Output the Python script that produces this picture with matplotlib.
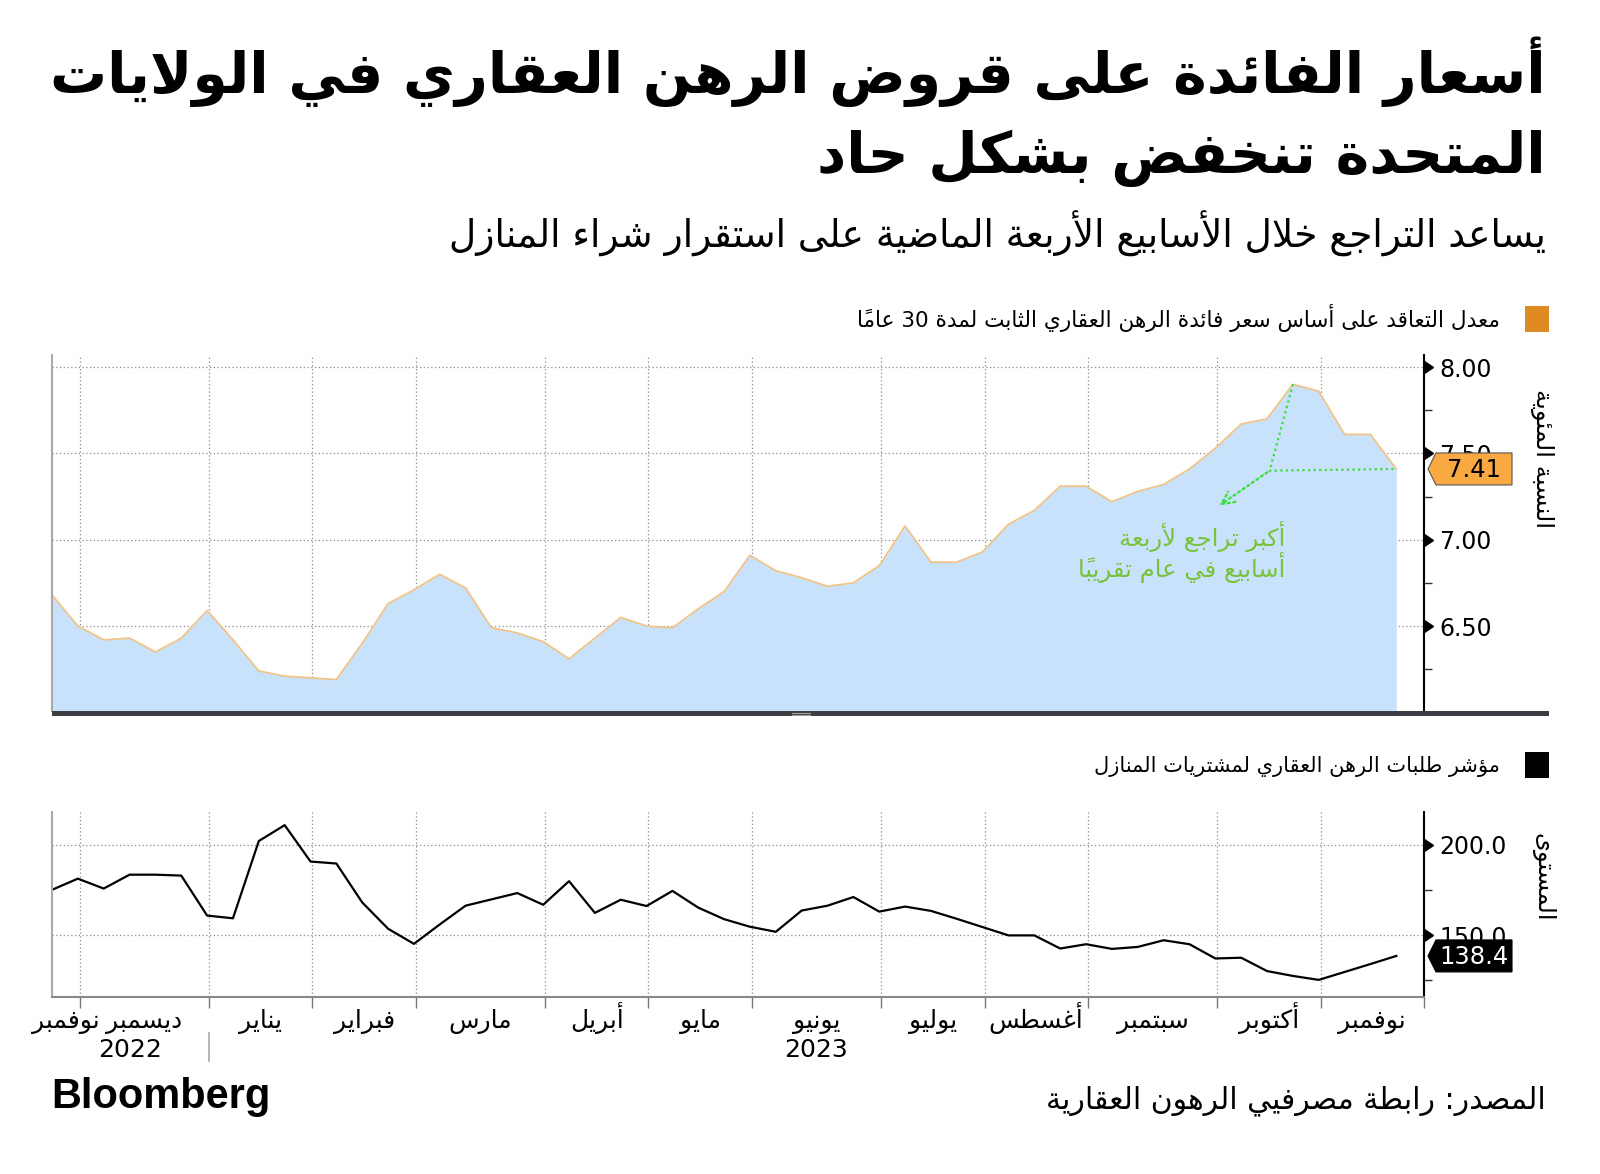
import matplotlib
matplotlib.use('Agg')
import matplotlib.pyplot as plt
import matplotlib.dates as mdates
import matplotlib.transforms as mtransforms
from matplotlib.patches import Rectangle, Polygon
from matplotlib.lines import Line2D
import numpy as np
import pandas as pd

# ---- data ----
dates = pd.date_range('2022-11-18', periods=53, freq='7D')
rate_30y = [6.68, 6.50, 6.42, 6.43, 6.35, 6.43, 6.59, 6.42, 6.24, 6.21,
            6.20, 6.19, 6.40, 6.63, 6.71, 6.80, 6.72, 6.49, 6.46, 6.41,
            6.31, 6.43, 6.55, 6.50, 6.49, 6.60, 6.70, 6.91, 6.82, 6.78,
            6.73, 6.75, 6.85, 7.08, 6.87, 6.87, 6.93, 7.09, 7.17, 7.31,
            7.31, 7.22, 7.28, 7.32, 7.41, 7.53, 7.67, 7.70, 7.90, 7.86,
            7.61, 7.61, 7.41]
purchase_idx = [175.1, 181.3, 175.8, 183.5, 183.5, 183.0, 160.8, 159.3, 202.2, 211.0,
                190.8, 189.7, 168.1, 153.5, 145.1, 155.9, 166.3, 169.8, 173.3, 166.8,
                179.9, 162.3, 169.6, 166.1, 174.5, 165.2, 158.8, 154.6, 151.8, 163.6,
                166.3, 171.1, 163.0, 165.8, 163.4, 159.0, 154.4, 149.8, 149.8, 142.5,
                144.9, 142.3, 143.4, 147.1, 144.9, 137.0, 137.4, 130.0, 127.3, 125.1,
                129.5, 133.9, 138.4]
month_names = ['نوفمبر', 'ديسمبر', 'يناير', 'فبراير', 'مارس', 'أبريل', 'مايو',
               'يونيو', 'يوليو', 'أغسطس', 'سبتمبر', 'أكتوبر', 'نوفمبر']
rate_ticks = [6.5, 7.0, 7.5, 8.0]
idx_ticks = [150.0, 200.0]

title_1 = 'أسعار الفائدة على قروض الرهن العقاري في الولايات'
title_2 = 'المتحدة تنخفض بشكل حاد'
subtitle = 'يساعد التراجع خلال الأسابيع الأربعة الماضية على استقرار شراء المنازل'
legend_1 = 'معدل التعاقد على أساس سعر فائدة الرهن العقاري الثابت لمدة 30 عاماً'
legend_2 = 'مؤشر طلبات الرهن العقاري لمشتريات المنازل'
ylab_1 = 'النسبة المئوية'
ylab_2 = 'المستوى'
note = 'أكبر تراجع لأربعة\nأسابيع في عام تقريباً'
source = 'المصدر: رابطة مصرفيي الرهون العقارية'

# ---- minimal arabic shaping + visual reordering (matplotlib has none) ----
FORMS = {
    'ء': (0xFE80, 1), 'آ': (0xFE81, 2), 'أ': (0xFE83, 2), 'ؤ': (0xFE85, 2), 'إ': (0xFE87, 2),
    'ئ': (0xFE89, 4), 'ا': (0xFE8D, 2), 'ب': (0xFE8F, 4), 'ة': (0xFE93, 2), 'ت': (0xFE95, 4),
    'ث': (0xFE99, 4), 'ج': (0xFE9D, 4), 'ح': (0xFEA1, 4), 'خ': (0xFEA5, 4), 'د': (0xFEA9, 2),
    'ذ': (0xFEAB, 2), 'ر': (0xFEAD, 2), 'ز': (0xFEAF, 2), 'س': (0xFEB1, 4), 'ش': (0xFEB5, 4),
    'ص': (0xFEB9, 4), 'ض': (0xFEBD, 4), 'ط': (0xFEC1, 4), 'ظ': (0xFEC5, 4), 'ع': (0xFEC9, 4),
    'غ': (0xFECD, 4), 'ف': (0xFED1, 4), 'ق': (0xFED5, 4), 'ك': (0xFED9, 4), 'ل': (0xFEDD, 4),
    'م': (0xFEE1, 4), 'ن': (0xFEE5, 4), 'ه': (0xFEE9, 4), 'و': (0xFEED, 2), 'ى': (0xFEEF, 2),
    'ي': (0xFEF1, 4),
}
LAM_ALEF = {'آ': 0xFEF5, 'أ': 0xFEF7, 'إ': 0xFEF9, 'ا': 0xFEFB}
MARKS = set(chr(c) for c in range(0x064B, 0x0653))


def _join(tok):
    if tok is None:
        return 0
    if tok[0] == 'LA':
        return 2
    if tok[0] in FORMS:
        return FORMS[tok[0]][1]
    return 0


def ar_line(s):
    toks = []
    i = 0
    while i < len(s):
        if s[i] == 'ل' and i + 1 < len(s) and s[i + 1] in LAM_ALEF:
            toks.append(('LA', s[i + 1]))
            i += 2
        else:
            toks.append((s[i], None))
            i += 1
    out = []
    for k, tok in enumerate(toks):
        c = tok[0]
        if c in MARKS:
            out.append(c)
            continue
        p = k - 1
        while p >= 0 and toks[p][0] in MARKS:
            p -= 1
        n = k + 1
        while n < len(toks) and toks[n][0] in MARKS:
            n += 1
        prev = toks[p] if p >= 0 else None
        nxt = toks[n] if n < len(toks) else None
        jc = _join(tok)
        cp = jc in (2, 4) and _join(prev) == 4
        cn = jc == 4 and _join(nxt) in (2, 4)
        if c == 'LA':
            out.append(chr(LAM_ALEF[tok[1]] + (1 if cp else 0)))
        elif c in FORMS:
            base, cnt = FORMS[c]
            if cnt == 4:
                off = 3 if (cp and cn) else 1 if cp else 2 if cn else 0
            elif cnt == 2:
                off = 1 if cp else 0
            else:
                off = 0
            out.append(chr(base + off))
        else:
            out.append(c)
    shaped = ''.join(out)
    # split into runs: numbers stay left-to-right, everything else is reversed
    runs = []
    for ch in shaped:
        isnum = ch.isdigit() or (ch == '.' and runs and runs[-1][0] and runs[-1][1][-1].isdigit())
        if runs and runs[-1][0] == isnum:
            runs[-1][1].append(ch)
        else:
            runs.append([isnum, [ch]])
    vis = []
    for isnum, chars in reversed(runs):
        if isnum:
            vis.append(''.join(chars))
        else:
            clusters = []
            for ch in chars:
                if ch in MARKS and clusters:
                    clusters[-1] += ch
                else:
                    clusters.append(ch)
            vis.append(''.join(reversed(clusters)))
    return ''.join(vis)


def ar(s):
    return '\n'.join(ar_line(line) for line in s.split('\n'))


# ---- figure ----
W, H = 1600, 1174
fig = plt.figure(figsize=(W / 100, H / 100), dpi=100)
plt.rcParams['font.family'] = ['DejaVu Sans']


def fx(x):
    return x / W


def fy(y):
    return 1 - y / H


ax1 = fig.add_axes([fx(52), fy(711), fx(1424) - fx(52), fy(355) - fy(711)])
ax2 = fig.add_axes([fx(52), fy(997), fx(1424) - fx(52), fy(812) - fy(997)])

# month boundaries: last weekly point of each month, plus the right edge
xd = mdates.date2num(dates)
s = pd.Series(xd, index=dates)
last_in_month = s.groupby([dates.year, dates.month]).max().values[:-1]
bounds = list(last_in_month + 0.5)
x_right = xd[-1] + 7.5
bounds.append(x_right)
edges = [xd[0]] + bounds
centers = [(edges[i] + edges[i + 1]) / 2 for i in range(len(edges) - 1)]

grid_kw = dict(color='#8a8a8a', linestyle=(0, (1, 2)), linewidth=0.9)

for ax in (ax1, ax2):
    ax.set_xlim(xd[0], x_right)
    ax.set_xticks(bounds)
    ax.yaxis.tick_right()
    ax.grid(True, which='major', **grid_kw)
    ax.spines['top'].set_visible(False)
    ax.spines['left'].set_color('#aaaaaa')
    ax.spines['left'].set_linewidth(1.5)
    ax.spines['right'].set_color('black')
    ax.spines['right'].set_linewidth(1.5)
    ax.tick_params(axis='y', which='major', length=0, pad=11, labelsize=17)
    ax.tick_params(axis='y', which='minor', length=6, width=1, color='#333333', direction='out')
    ax.set_axisbelow(True)

# top panel: 30y rate
ax1.set_ylim(6.008, 8.07)
ax1.set_yticks(rate_ticks)
ax1.set_yticks([6.25, 6.75, 7.25, 7.75], minor=True)
ax1.set_yticklabels(['%.2f' % v for v in rate_ticks])
ax1.tick_params(axis='x', length=0, labelbottom=False)
ax1.spines['bottom'].set_visible(False)
ax1.fill_between(xd, rate_30y, 6.008, color='#c9e2fb', linewidth=0, zorder=1)
ax1.plot(xd, rate_30y, color='#f0c488', linewidth=1.3, zorder=2)

# bottom panel: purchase index
ax2.set_ylim(115.6, 218.3)
ax2.set_yticks(idx_ticks)
ax2.set_yticks([125, 175], minor=True)
ax2.set_yticklabels(['%.1f' % v for v in idx_ticks])
ax2.tick_params(axis='x', length=8, width=1, color='#777777', labelbottom=False)
ax2.spines['bottom'].set_color('#888888')
ax2.spines['bottom'].set_linewidth(1.5)
ax2.plot(xd, purchase_idx, color='black', linewidth=1.6, zorder=2)

# caret markers at the major ticks
for ax, ticks in ((ax1, rate_ticks), (ax2, idx_ticks)):
    ax.plot([1] * len(ticks), ticks, linestyle='none', marker=9, markersize=8.5,
            color='black', transform=ax.get_yaxis_transform(), clip_on=False)

# annotation on the recent drop
green = '#3ddc3d'
junction = (xd[47] + 0.7, 7.40)
ax1.plot([xd[48], junction[0], xd[-1]], [rate_30y[48], junction[1], rate_30y[-1]],
         color=green, linestyle=(0, (1, 1.5)), linewidth=1.6, zorder=3)
ax1.annotate('', xy=(xd[45] + 0.5, 7.19), xytext=junction,
             arrowprops=dict(arrowstyle='->,head_length=0.9,head_width=0.45', color=green,
                             linestyle=(0, (1, 1.5)), linewidth=1.6), zorder=3)
ax1.text(xd[47] + 5, 7.11, ar(note), color='#78c23c', fontsize=17.5,
         ha='right', va='top', ma='right', linespacing=1.0, zorder=4)

# value tags on the right
fig.canvas.draw()
for ax, val, face, tc, fmt in ((ax1, rate_30y[-1], '#f9a942', 'black', '%.2f'),
                               (ax2, purchase_idx[-1], 'black', 'white', '%.1f')):
    x0, y0 = ax.get_yaxis_transform().transform((1, val))
    hh = 16
    verts = [(x0 + 4, y0), (x0 + 12, y0 + hh), (x0 + 88, y0 + hh), (x0 + 88, y0 - hh),
             (x0 + 12, y0 - hh)]
    fig.add_artist(Polygon(verts, closed=True, facecolor=face,
                           edgecolor='#555555' if face != 'black' else 'black',
                           linewidth=0.8, transform=mtransforms.IdentityTransform(), zorder=5))
    fig.text(x0 + 50, y0 - 1, fmt % val, transform=mtransforms.IdentityTransform(),
             ha='center', va='center', fontsize=17.5, color=tc, zorder=6)

# month labels, years and separator
for c, name in zip(centers, month_names):
    ax2.annotate(ar(name), xy=(c, 0), xycoords=ax2.get_xaxis_transform(), xytext=(0, -31),
                 textcoords='offset pixels', ha='center', va='baseline', fontsize=18,
                 annotation_clip=False)
ax2.annotate('2022', xy=((edges[0] + edges[2]) / 2, 0), xycoords=ax2.get_xaxis_transform(),
             xytext=(0, -60), textcoords='offset pixels', ha='center', va='baseline', fontsize=18,
             annotation_clip=False)
ax2.annotate('2023', xy=((edges[2] + x_right) / 2, 0), xycoords=ax2.get_xaxis_transform(),
             xytext=(0, -60), textcoords='offset pixels', ha='center', va='baseline', fontsize=18,
             annotation_clip=False)
ax2.plot([bounds[1], bounds[1]], [-36 / 185, -64 / 185], color='#aaaaaa', linewidth=1.2,
         transform=ax2.get_xaxis_transform(), clip_on=False)

# thick separator bar under the top panel
fig.add_artist(Rectangle((fx(52), fy(716)), fx(1549) - fx(52), fy(711) - fy(716),
                         transform=fig.transFigure, facecolor='#3b3e43', edgecolor='none'))
for yy in (712.5, 714.5):
    fig.add_artist(Line2D([fx(792), fx(810)], [fy(yy), fy(yy)], color='#a0a0a0', linewidth=0.8))

# legend swatches
fig.add_artist(Rectangle((fx(1525), fy(332)), fx(24), 26 / H, transform=fig.transFigure,
                         facecolor='#dd8b22', edgecolor='none'))
fig.add_artist(Rectangle((fx(1525), fy(778)), fx(24), 26 / H, transform=fig.transFigure,
                         facecolor='black', edgecolor='none'))

# y labels (rotated)
fig.text(fx(1542), fy(459), ar(ylab_1), rotation=270, ha='center', va='center', fontsize=17.5)
fig.text(fx(1542), fy(877), ar(ylab_2), rotation=270, ha='center', va='center', fontsize=17.5)

# titles and text blocks, sized to the reference widths
renderer = fig.canvas.get_renderer()


def fit(t, target):
    for _ in range(3):
        w = t.get_window_extent(renderer).width
        t.set_fontsize(t.get_fontsize() * target / w)


t1 = fig.text(fx(1546), fy(93), ar(title_1), ha='right', va='baseline', fontsize=44, fontweight='bold')
fit(t1, 1497)
fig.text(fx(1546), fy(173), ar(title_2), ha='right', va='baseline', fontsize=t1.get_fontsize(),
         fontweight='bold')
fit(fig.text(fx(1546), fy(248), ar(subtitle), ha='right', va='baseline', fontsize=26), 1096)
fit(fig.text(fx(1500), fy(327), ar(legend_1), ha='right', va='baseline', fontsize=15), 643)
fit(fig.text(fx(1500), fy(772), ar(legend_2), ha='right', va='baseline', fontsize=15), 405)
fit(fig.text(fx(1546), fy(1108), ar(source), ha='right', va='baseline', fontsize=20), 500)
fit(fig.text(fx(51), fy(1108), 'Bloomberg', ha='left', va='baseline', fontsize=28,
             fontweight='bold', family=['Liberation Sans', 'DejaVu Sans']), 219)

fig.savefig('out.png', dpi=100)
